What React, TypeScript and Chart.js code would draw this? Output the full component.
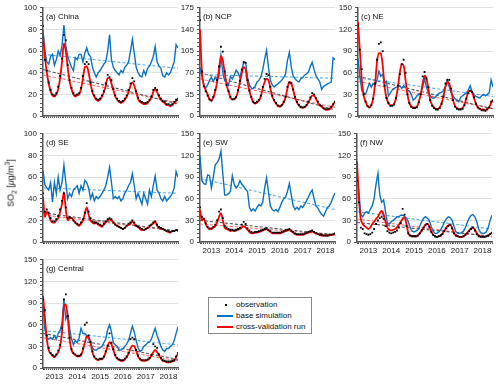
import React, { useEffect, useRef } from 'react';
import { Chart, registerables } from 'chart.js';
Chart.register(...registerables);

// month index 0 = Jan 2013 ... 71 = Dec 2018
const months = Array.from({ length: 72 }, (_, i) => i);
const yearLabels = ['2013', '2014', '2015', '2016', '2017', '2018'];

// (a) China
const chinaObs = [83,52,42,31,24,20,19,21,27,37,53,75, 70,47,33,26,21,19,20,21,26,37,48,50, 48,31,23,19,16,15,16,19,23,30,38,36, 33,25,19,16,14,13,14,16,19,24,30,35, 32,23,17,14,13,12,12,13,15,18,24,26, 24,19,16,14,13,11,11,10,11,13,15,16];
const chinaBase = [80,60,50,48,55,57,47,52,60,56,65,84, 65,55,50,45,42,54,52,57,57,50,58,63, 57,55,45,40,36,40,42,45,48,50,60,75, 52,45,42,40,38,42,40,45,47,50,60,71, 58,45,40,37,36,42,38,44,46,50,55,64, 50,46,44,37,36,40,38,40,45,50,66,63];
const chinaCv = [75,55,40,30,23,19,18,20,25,35,50,67, 60,45,32,25,20,18,19,20,25,35,45,46, 40,30,22,18,15,14,15,18,22,28,35,35, 30,24,18,15,13,12,13,15,18,22,28,31, 28,22,16,13,12,11,11,12,14,17,22,25, 22,18,15,13,12,10,10,9,10,12,14,15];
const chinaTrendObs = [43, 11];
const chinaTrendBase = [57, 44];
const chinaTrendCv = [38, 12];

// (b) NCP
const ncpObs = [155,72,48,40,33,27,25,31,42,58,80,112, 104,72,50,40,31,27,28,31,42,57,75,87, 86,58,41,31,23,21,23,26,33,47,60,68, 66,47,33,26,21,17,16,18,23,31,47,54, 53,43,31,23,18,15,14,15,18,23,30,37, 35,29,23,18,16,13,11,11,12,15,19,23];
const ncpBase = [78,65,50,45,50,58,62,56,62,58,65,98, 70,57,55,50,64,60,66,74,70,62,75,87, 87,62,50,45,44,48,55,58,63,75,92,106, 79,58,50,47,50,52,55,58,62,68,90,103, 79,65,60,57,55,60,62,66,68,71,80,87, 75,65,60,55,43,48,50,52,53,55,94,91];
const ncpCv = [140,72,50,42,35,27,25,30,40,55,75,97, 90,70,50,40,30,27,27,30,40,55,70,79, 75,55,40,30,22,20,22,25,32,45,55,60, 58,45,32,25,20,16,15,17,22,30,45,55, 53,42,30,22,17,14,13,14,17,22,28,33, 33,28,22,17,15,12,10,10,11,14,18,24];
const ncpTrendObs = [70, 10];
const ncpTrendBase = [67, 61];
const ncpTrendCv = [60, 14];

// (c) NE
const neObs = [125,92,65,30,20,14,12,15,24,45,78,100, 102,90,42,25,18,14,14,16,25,42,58,72, 78,60,30,18,13,11,11,12,19,30,55,61, 52,40,22,14,11,9,9,11,17,27,45,50, 50,38,22,13,10,9,9,10,15,24,32,35, 33,26,17,12,10,8,8,7,9,12,20,22];
const neBase = [80,55,35,32,30,38,45,40,45,42,50,62, 55,58,45,48,28,32,36,38,40,40,42,38, 42,40,36,35,30,22,24,28,30,32,40,52, 40,32,28,25,25,27,30,32,33,35,42,50, 40,32,28,24,22,20,26,28,30,32,36,42, 34,30,27,26,25,28,30,28,30,32,50,40];
const neCv = [130,90,50,28,20,14,12,15,25,45,75,87, 87,70,40,25,18,15,15,17,25,40,60,72, 70,50,30,18,13,12,12,13,20,30,45,56, 52,38,22,15,12,10,10,12,18,28,40,47, 45,35,22,14,11,10,10,11,16,25,33,35, 33,25,17,12,10,9,9,8,10,12,18,22];
const neTrendObs = [55, 10];
const neTrendBase = [53, 27];
const neTrendCv = [48, 10];

// (d) SE
const seObs = [45,28,30,27,22,19,19,21,24,30,38,45, 32,22,23,22,20,18,17,16,18,21,27,36, 28,22,19,18,18,17,16,15,17,19,21,22, 21,18,16,15,14,13,12,13,15,17,18,20, 18,15,14,13,12,11,12,13,15,16,18,19, 16,14,13,12,11,10,10,9,10,10,11,11];
const seBase = [66,53,50,48,55,37,55,45,60,48,55,71, 55,40,45,42,48,50,52,45,52,48,57,55, 50,40,45,38,42,40,42,45,48,52,60,69, 55,40,42,40,42,38,40,45,48,52,55,63, 52,40,45,40,35,45,40,35,48,42,52,61, 48,45,40,38,42,38,40,42,45,50,65,60];
const seCv = [42,23,28,25,20,18,18,20,22,28,35,46, 30,20,22,22,20,18,16,15,17,20,26,32, 25,20,18,17,18,16,15,14,16,18,20,21, 20,18,16,15,14,13,12,13,15,16,17,19, 17,15,14,12,11,11,12,13,14,16,17,19, 15,13,12,12,11,10,9,9,10,10,11,11];
const seTrendObs = [27, 10];
const seTrendBase = [50, 45];
const seTrendCv = [25, 10];

// (e) SW
const swObs = [48,35,32,26,21,19,19,21,24,30,42,45, 33,22,20,18,17,17,16,17,18,20,24,28, 25,19,16,14,13,14,14,15,16,17,18,19, 17,15,13,13,13,13,13,14,15,16,17,18, 16,14,12,11,11,11,11,12,13,14,15,16, 14,12,11,10,10,9,9,9,10,10,11,12];
const swBase = [120,85,81,80,93,92,75,90,107,110,115,126, 95,65,65,67,70,92,80,75,78,85,80,77, 73,70,48,43,46,43,48,52,50,55,75,89, 70,50,45,43,45,42,48,55,60,62,70,81, 65,50,45,48,45,50,48,52,57,62,68,72, 60,50,47,42,38,36,42,48,50,55,62,68];
const swCv = [45,30,33,25,20,18,18,20,22,27,35,40, 30,20,18,17,15,16,15,16,17,18,20,22, 20,17,14,12,12,13,13,14,15,16,17,18, 16,14,12,12,12,12,12,13,14,15,16,17, 15,13,11,10,10,10,10,11,12,13,14,15, 13,12,11,10,9,9,9,9,9,10,10,11];
const swTrendObs = [30, 10];
const swTrendBase = [88, 45];
const swTrendCv = [25, 10];

// (f) NW
const nwObs = [85,55,20,18,12,11,10,11,13,18,25,30, 33,35,32,22,15,13,12,13,14,16,20,26, 46,38,22,12,9,8,8,8,9,12,16,20, 23,25,21,14,10,8,7,8,9,11,15,19, 22,24,19,12,9,8,7,7,8,10,12,15, 18,20,16,11,8,7,7,7,8,9,11,13];
const nwBase = [95,70,38,35,40,42,40,45,50,60,80,95, 65,55,58,42,25,25,28,30,32,35,35,37, 37,36,33,28,20,15,14,15,17,22,28,33, 35,33,30,22,15,12,12,14,17,22,28,32, 35,34,30,22,14,12,12,13,15,20,27,33, 37,38,35,28,18,13,12,12,14,20,30,37];
const nwCv = [112,60,32,25,22,20,18,20,25,28,32,35, 40,43,38,28,20,17,16,17,18,20,24,28, 32,34,25,12,9,8,8,8,9,12,16,20, 24,25,22,15,10,8,7,8,9,12,16,20, 23,24,20,13,9,8,7,7,8,10,13,16, 19,20,17,12,9,8,7,7,8,9,11,13];
const nwTrendObs = [27, 8];
const nwTrendBase = [42, 18];
const nwTrendCv = [32, 7];

// (g) Central
const centralObs = [95,80,45,28,21,18,16,19,24,32,55,95, 102,72,42,26,21,19,17,17,19,27,60,63, 45,36,23,16,13,12,13,13,16,23,31,48, 35,26,18,14,12,11,11,13,16,21,40,42, 40,25,17,13,11,11,11,12,14,18,33,30, 28,19,14,11,10,9,9,9,10,11,16,21];
const centralBase = [85,55,42,40,42,40,45,40,48,52,62,95, 68,75,55,40,32,38,35,42,55,48,48,45, 40,35,28,25,25,27,28,30,35,40,53,60, 50,35,32,30,25,25,27,30,33,38,48,58, 50,38,28,23,25,30,32,35,36,40,48,55, 45,38,30,25,23,27,27,30,32,38,48,57];
const centralCv = [100,70,40,25,20,17,15,18,22,30,50,85, 88,70,40,25,20,18,16,16,18,25,35,44, 43,35,22,15,12,11,12,12,15,22,30,36, 33,25,17,13,11,10,10,12,15,20,27,31, 30,24,16,12,10,10,10,11,13,17,22,25, 22,18,13,10,9,8,8,8,9,10,15,20];
const centralTrendObs = [48, 12];
const centralTrendBase = [52, 32];
const centralTrendCv = [42, 10];

const BLUE = '#0a72c2';
const RED = '#ff0000';

type PanelDef = {
  title: string;
  obs: number[]; base: number[]; cv: number[];
  tObs: number[]; tBase: number[]; tCv: number[];
  yMax: number; yStep: number; showX: boolean;
  left: number; top: number;
};

const panels: PanelDef[] = [
  { title: '(a) China', obs: chinaObs, base: chinaBase, cv: chinaCv, tObs: chinaTrendObs, tBase: chinaTrendBase, tCv: chinaTrendCv, yMax: 100, yStep: 20, showX: false, left: 3, top: 0 },
  { title: '(b) NCP', obs: ncpObs, base: ncpBase, cv: ncpCv, tObs: ncpTrendObs, tBase: ncpTrendBase, tCv: ncpTrendCv, yMax: 175, yStep: 35, showX: false, left: 160, top: 0 },
  { title: '(c) NE', obs: neObs, base: neBase, cv: neCv, tObs: neTrendObs, tBase: neTrendBase, tCv: neTrendCv, yMax: 150, yStep: 30, showX: false, left: 318, top: 0 },
  { title: '(d) SE', obs: seObs, base: seBase, cv: seCv, tObs: seTrendObs, tBase: seTrendBase, tCv: seTrendCv, yMax: 100, yStep: 20, showX: false, left: 3, top: 126 },
  { title: '(e) SW', obs: swObs, base: swBase, cv: swCv, tObs: swTrendObs, tBase: swTrendBase, tCv: swTrendCv, yMax: 150, yStep: 30, showX: true, left: 160, top: 126 },
  { title: '(f) NW', obs: nwObs, base: nwBase, cv: nwCv, tObs: nwTrendObs, tBase: nwTrendBase, tCv: nwTrendCv, yMax: 150, yStep: 30, showX: true, left: 317, top: 126 },
  { title: '(g) Central', obs: centralObs, base: centralBase, cv: centralCv, tObs: centralTrendObs, tBase: centralTrendBase, tCv: centralTrendCv, yMax: 150, yStep: 30, showX: true, left: 3, top: 252 },
];

const FONT = '"Liberation Sans", Arial, Helvetica, sans-serif';

const titlePlugin = {
  id: 'panelTitle',
  afterDraw(chart: any, _args: any, opts: any) {
    const { ctx, chartArea } = chart;
    ctx.save();
    ctx.font = `8px ${FONT}`;
    ctx.fillStyle = '#111';
    ctx.textBaseline = 'middle';
    ctx.fillText(opts.text, chartArea.left + 3, chartArea.top + 9);
    ctx.restore();
  },
};

function Panel({ def }: { def: PanelDef }) {
  const ref = useRef<HTMLCanvasElement>(null);
  useEffect(() => {
    const pts = (arr: number[]) => arr.map((y, i) => ({ x: months[i], y }));
    const trend = (t: number[]) => [{ x: months[0], y: t[0] }, { x: months[months.length - 1], y: t[1] }];
    const minor = def.yStep / 5;
    const chart = new Chart(ref.current as HTMLCanvasElement, {
      type: 'line',
      data: {
        datasets: [
          { data: pts(def.obs), showLine: false, pointStyle: 'rect', pointRadius: 1.3, backgroundColor: '#000', borderColor: '#000', borderWidth: 0, order: 0 },
          { data: pts(def.cv), borderColor: RED, borderWidth: 1.8, pointRadius: 0, cubicInterpolationMode: 'monotone', order: 1 },
          { data: pts(def.base), borderColor: BLUE, borderWidth: 1.4, pointRadius: 0, tension: 0, order: 2 },
          { data: trend(def.tBase), borderColor: '#5aaee8', borderWidth: 1.1, borderDash: [3, 2], pointRadius: 0, order: 3 },
          { data: trend(def.tObs), borderColor: '#555', borderWidth: 1.1, borderDash: [3, 2], pointRadius: 0, order: 3 },
          { data: trend(def.tCv), borderColor: '#ff7070', borderWidth: 1.1, borderDash: [3, 2], pointRadius: 0, order: 3 },
        ] as any,
      },
      options: {
        animation: false,
        responsive: false,
        maintainAspectRatio: false,
        layout: { padding: { top: 7, right: 5, left: 0, bottom: 0 } },
        plugins: {
          legend: { display: false },
          tooltip: { enabled: false },
          panelTitle: { text: def.title },
        } as any,
        scales: {
          x: {
            type: 'linear',
            min: 0,
            max: 71,
            afterBuildTicks: (s: any) => { s.ticks = months.map((v) => ({ value: v })); },
            afterFit: (s: any) => { s.height = 16; },
            ticks: {
              autoSkip: false, maxRotation: 0, minRotation: 0, padding: 2,
              color: '#222', font: { family: FONT, size: 8 },
              callback: (v: any) => (def.showX && v % 12 === 6 ? yearLabels[Math.floor(v / 12)] : ''),
            },
            grid: { drawOnChartArea: false, drawTicks: true, tickLength: 2, tickColor: '#555' },
            border: { display: true, color: '#555', width: 1.5 },
          },
          y: {
            min: 0,
            max: def.yMax,
            afterBuildTicks: (s: any) => {
              const t: any[] = [];
              for (let v = 0; v <= def.yMax + 0.001; v += minor) t.push({ value: Math.round(v) });
              s.ticks = t;
            },
            afterFit: (s: any) => { s.width = 40; },
            ticks: {
              autoSkip: false, padding: 3,
              color: '#222', font: { family: FONT, size: 8 },
              callback: (v: any) => (v % def.yStep === 0 ? String(v) : ''),
            },
            grid: {
              color: (ctx: any) => (ctx.tick && ctx.tick.value % def.yStep === 0 && ctx.tick.value > 0 ? '#e2e2e2' : 'rgba(0,0,0,0)'),
              lineWidth: 1,
              tickColor: '#555',
              tickLength: 3,
            },
            border: { display: true, color: '#555', width: 1.5 },
          },
        },
      } as any,
      plugins: [titlePlugin as any],
    });
    return () => chart.destroy();
  }, [def]);
  return (
    <canvas
      ref={ref}
      width={180}
      height={132}
      style={{ position: 'absolute', left: def.left, top: def.top, width: 180, height: 132 }}
    />
  );
}

export default function App() {
  return (
    <div style={{ position: 'absolute', left: 0, top: 0, width: 500, height: 385, background: '#fff', overflow: 'hidden', fontFamily: FONT }}>
      {panels.map((p) => (
        <Panel key={p.title} def={p} />
      ))}
      <div
        style={{
          position: 'absolute', left: 11, top: 183,
          transform: 'translate(-50%, -50%) rotate(-90deg)',
          whiteSpace: 'nowrap', fontSize: 9, color: '#111', lineHeight: '10px',
        }}
      >
        SO<sub style={{ fontSize: 6.5 }}>2</sub> [<i>μ</i>g/m<sup style={{ fontSize: 6.5 }}>3</sup>]
      </div>
      <div
        style={{
          position: 'absolute', left: 208, top: 297, width: 102, height: 35,
          border: '1px solid #888', background: '#fff', fontSize: 8, color: '#111', whiteSpace: 'nowrap',
        }}
      >
        <div style={{ position: 'absolute', left: 16, top: 6, width: 2, height: 2, background: '#000' }} />
        <div style={{ position: 'absolute', left: 27, top: 2, lineHeight: '10px' }}>observation</div>
        <div style={{ position: 'absolute', left: 8, top: 17, width: 16, height: 1.5, background: BLUE }} />
        <div style={{ position: 'absolute', left: 27, top: 13, lineHeight: '10px' }}>base simulation</div>
        <div style={{ position: 'absolute', left: 8, top: 28, width: 16, height: 2, background: RED }} />
        <div style={{ position: 'absolute', left: 27, top: 24, lineHeight: '10px' }}>cross-validation run</div>
      </div>
    </div>
  );
}
